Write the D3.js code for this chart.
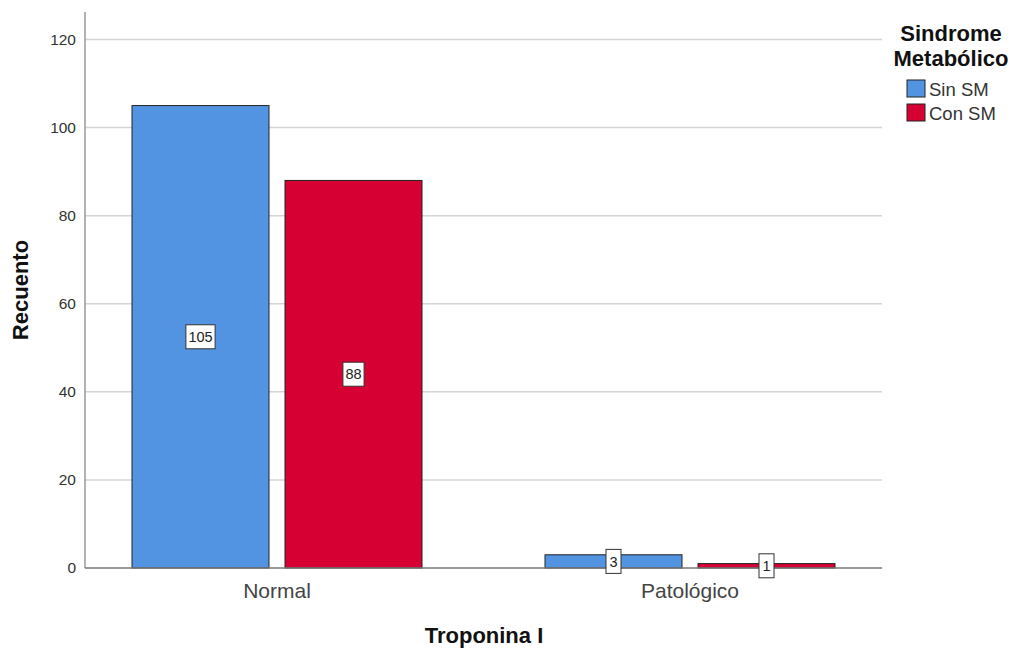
<!DOCTYPE html>
<html><head><meta charset="utf-8">
<script src="https://cdn.jsdelivr.net/npm/d3@7"></script>
<style>body{margin:0;background:#fff}svg{display:block}text{font-family:"Liberation Sans",Arial,sans-serif}</style>
</head><body><svg id="c" width="1015" height="650"></svg>
<script>
const categories = ["Normal", "Patológico"];
const seriesNames = ["Sin SM", "Con SM"];
const sinSM = [105, 3];
const conSM = [88, 1];
const yTicks = [0, 20, 40, 60, 80, 100, 120];
const colors = ["#5294e2", "#d60032"];

(function() {
const values = [sinSM, conSM];
const svg = d3.select("#c");
const pLeft = 85, pRight = 882, pTop = 12, pBottom = 568;

const y = d3.scaleLinear().domain([0, 120]).range([pBottom, 39.5]);
const x0 = d3.scaleBand().domain(categories).range([70.5, 896.5]).paddingInner(0).paddingOuter(0);
const x1 = d3.scaleBand().domain(seriesNames)
  .range([x0.bandwidth()/2 - 145, x0.bandwidth()/2 + 145]).paddingInner(0.1046).paddingOuter(0);

// gridlines
svg.append("g").selectAll("line").data(yTicks.filter(d => d > 0)).join("line")
  .attr("x1", pLeft).attr("x2", pRight).attr("y1", d => y(d)).attr("y2", d => y(d))
  .attr("stroke", "#d4d4d4").attr("stroke-width", 1.5);

// y axis
const ya = svg.append("g").attr("transform", `translate(${pLeft},0)`)
  .call(d3.axisLeft(y).tickValues(yTicks).tickSize(0).tickPadding(9));
ya.select(".domain").remove();
ya.selectAll("text").attr("font-size", 15.5).attr("fill", "#333").attr("font-family", '"Liberation Sans",Arial,sans-serif');
svg.append("line").attr("x1", pLeft).attr("x2", pLeft).attr("y1", pTop).attr("y2", pBottom)
  .attr("stroke", "#999").attr("stroke-width", 1.5);

// bars
const rows = [];
categories.forEach((c, i) => seriesNames.forEach((s, j) => rows.push({c, s, j, v: values[j][i]})));
svg.append("g").selectAll("rect").data(rows).join("rect")
  .attr("x", d => x0(d.c) + x1(d.s)).attr("width", x1.bandwidth())
  .attr("y", d => y(d.v)).attr("height", d => y(0) - y(d.v))
  .attr("fill", d => colors[d.j]).attr("stroke", "#222").attr("stroke-width", 1);

// x axis baseline
svg.append("line").attr("x1", pLeft).attr("x2", pRight).attr("y1", pBottom).attr("y2", pBottom)
  .attr("stroke", "#777").attr("stroke-width", 1.5);

// value labels
const lg = svg.append("g").selectAll("g").data(rows).join("g")
  .attr("transform", d => `translate(${x0(d.c) + x1(d.s) + x1.bandwidth()/2},${y(d.v/2)})`);
lg.append("text").text(d => d.v).attr("text-anchor", "middle").attr("dy", "0.36em")
  .attr("font-size", 14.5).attr("fill", "#222");
lg.each(function() {
  const g = d3.select(this);
  const bb = g.select("text").node().getBBox();
  const w = Math.max(bb.width + 5, 15), h = 24;
  g.insert("rect", "text").attr("x", -w/2).attr("y", -h/2).attr("width", w).attr("height", h)
    .attr("fill", "#fff").attr("stroke", "#333").attr("stroke-width", 1);
});

// category labels
svg.append("g").selectAll("text").data(categories).join("text")
  .attr("x", d => x0(d) + x0.bandwidth()/2).attr("y", 598)
  .attr("text-anchor", "middle").attr("font-size", 21).attr("fill", "#444").text(d => d);

// axis titles
svg.append("text").attr("x", 484).attr("y", 643).attr("text-anchor", "middle")
  .attr("font-size", 22).attr("font-weight", "bold").attr("fill", "#111").text("Troponina I");
svg.append("text").attr("transform", "translate(28,290) rotate(-90)").attr("text-anchor", "middle")
  .attr("font-size", 22).attr("font-weight", "bold").attr("fill", "#111").text("Recuento");

// legend
svg.append("text").attr("x", 951).attr("y", 41).attr("text-anchor", "middle")
  .attr("font-size", 22).attr("font-weight", "bold").attr("fill", "#111").text("Sindrome");
svg.append("text").attr("x", 951).attr("y", 66).attr("text-anchor", "middle")
  .attr("font-size", 22).attr("font-weight", "bold").attr("fill", "#111").text("Metabólico");
const li = svg.append("g").selectAll("g").data(seriesNames).join("g")
  .attr("transform", (d, i) => `translate(907,${80 + i * 24})`);
li.append("rect").attr("width", 18).attr("height", 17).attr("fill", (d, i) => colors[i])
  .attr("stroke", "#222").attr("stroke-width", 1);
li.append("text").attr("x", 22).attr("y", 16).attr("font-size", 18.5).attr("fill", "#333").text(d => d);
})();
</script></body></html>
